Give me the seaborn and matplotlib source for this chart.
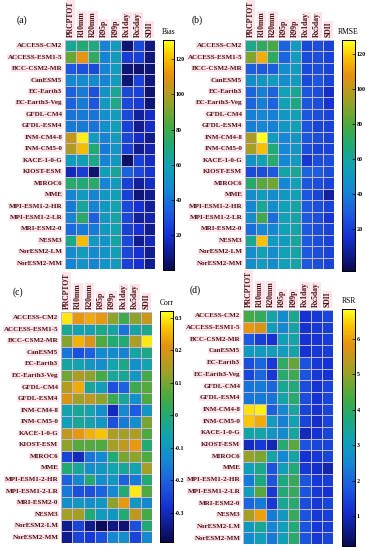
import numpy as np
import pandas as pd
import matplotlib
matplotlib.use('Agg')
import matplotlib.pyplot as plt
import seaborn as sns
from matplotlib.colors import LinearSegmentedColormap

models = ['ACCESS-CM2', 'ACCESS-ESM1-5', 'BCC-CSM2-MR', 'CanESM5', 'EC-Earth3',
          'EC-Earth3-Veg', 'GFDL-CM4', 'GFDL-ESM4', 'INM-CM4-8', 'INM-CM5-0',
          'KACE-1-0-G', 'KIOST-ESM', 'MIROC6', 'MME', 'MPI-ESM1-2-HR',
          'MPI-ESM1-2-LR', 'MRI-ESM2-0', 'NESM3', 'NorESM2-LM', 'NorESM2-MM']
indices = ['PRCPTOT', 'R10mm', 'R20mm', 'R95p', 'R99p', 'Rx1day', 'Rx5day', 'SDII']

bias = [
    [66, 72, 70, 45, 56, 6, 28, 8],
    [88, 112, 76, 45, 56, 24, 25, 7],
    [32, 30, 28, 45, 56, 6, 5, 6],
    [46, 48, 48, 45, 56, 6, 25, 7],
    [34, 42, 30, 52, 66, 27, 25, 5],
    [35, 42, 31, 55, 68, 27, 24, 6],
    [40, 42, 40, 50, 56, 27, 12, 18],
    [42, 42, 40, 50, 58, 25, 10, 18],
    [104, 128, 56, 45, 56, 27, 18, 10],
    [100, 120, 72, 42, 52, 25, 10, 14],
    [56, 58, 68, 45, 55, 4, 25, 18],
    [16, 24, 5, 58, 64, 35, 27, 22],
    [74, 72, 74, 45, 56, 25, 12, 18],
    [45, 55, 45, 55, 58, 25, 6, 10],
    [42, 64, 45, 55, 60, 27, 20, 12],
    [45, 74, 34, 55, 62, 27, 12, 14],
    [37, 42, 42, 55, 60, 25, 20, 10],
    [68, 120, 55, 52, 62, 27, 10, 16],
    [48, 56, 48, 52, 58, 27, 20, 10],
    [45, 52, 45, 52, 56, 25, 20, 10],
]

rmse = [
    [64, 72, 78, 32, 52, 24, 25, 22],
    [88, 114, 72, 32, 52, 24, 25, 22],
    [30, 28, 30, 45, 52, 24, 25, 22],
    [45, 50, 52, 45, 52, 24, 27, 22],
    [32, 40, 32, 55, 62, 27, 25, 15],
    [32, 40, 32, 55, 65, 27, 25, 17],
    [40, 42, 40, 50, 55, 27, 25, 22],
    [40, 42, 40, 50, 55, 27, 22, 22],
    [96, 128, 52, 42, 50, 27, 25, 22],
    [95, 118, 68, 42, 50, 25, 22, 22],
    [48, 56, 70, 42, 52, 18, 25, 25],
    [24, 25, 28, 58, 62, 32, 30, 25],
    [70, 82, 86, 42, 55, 27, 25, 22],
    [45, 52, 45, 50, 55, 27, 22, 8],
    [42, 62, 45, 55, 58, 28, 25, 22],
    [45, 76, 35, 55, 58, 28, 25, 18],
    [35, 42, 42, 55, 58, 28, 25, 22],
    [62, 118, 52, 52, 60, 28, 25, 22],
    [45, 55, 45, 55, 58, 28, 25, 22],
    [45, 52, 45, 55, 58, 28, 25, 22],
]

corr = [
    [0.30, 0.22, 0.24, 0.22, 0.12, 0.04, 0.12, 0.18],
    [-0.03, -0.06, -0.06, -0.02, -0.05, -0.17, -0.05, -0.02],
    [0.11, 0.25, 0.20, 0.06, 0.00, 0.00, 0.15, 0.30],
    [-0.17, -0.23, -0.20, -0.13, -0.13, -0.15, -0.05, -0.02],
    [-0.05, -0.06, -0.10, -0.12, -0.06, -0.02, -0.12, -0.06],
    [0.09, 0.15, 0.12, 0.05, -0.04, -0.04, -0.10, 0.05],
    [0.16, 0.24, -0.04, -0.08, -0.23, -0.20, 0.04, 0.07],
    [0.20, 0.14, 0.17, 0.12, 0.04, -0.04, -0.12, 0.06],
    [-0.06, -0.04, -0.06, -0.12, -0.30, -0.14, -0.21, -0.10],
    [-0.08, -0.04, -0.06, -0.10, -0.23, -0.16, -0.12, 0.10],
    [0.17, 0.22, 0.25, 0.27, 0.15, 0.14, 0.15, 0.06],
    [0.12, 0.07, 0.07, 0.06, 0.14, 0.17, 0.22, 0.00],
    [-0.25, -0.30, -0.17, -0.14, 0.00, 0.10, 0.12, 0.06],
    [0.00, -0.04, -0.12, -0.10, -0.06, -0.04, -0.06, 0.14],
    [-0.20, -0.14, 0.00, -0.12, -0.10, -0.20, -0.16, 0.00],
    [-0.16, -0.23, -0.23, -0.20, -0.14, 0.00, 0.30, 0.06],
    [-0.12, -0.10, -0.12, -0.10, 0.12, 0.22, -0.10, -0.14],
    [0.14, 0.14, 0.00, -0.09, -0.10, 0.00, 0.17, 0.05],
    [-0.34, -0.25, -0.34, -0.38, -0.35, -0.36, -0.23, 0.00],
    [-0.34, -0.25, -0.27, -0.23, -0.14, -0.12, -0.25, -0.14],
]

rsr = [
    [4.3, 4.1, 3.3, 2.6, 3.6, 1.2, 1.3, 1.5],
    [5.9, 5.7, 3.1, 2.5, 3.3, 1.2, 1.3, 1.4],
    [1.8, 1.4, 1.2, 3.1, 3.3, 1.2, 1.2, 1.4],
    [3.0, 3.0, 3.1, 3.0, 3.3, 1.2, 1.3, 1.4],
    [1.6, 2.0, 1.3, 4.0, 4.6, 1.7, 1.3, 1.2],
    [1.5, 2.0, 1.3, 3.9, 4.2, 1.7, 1.3, 1.2],
    [2.2, 2.3, 2.0, 3.5, 3.8, 1.6, 1.2, 1.5],
    [2.2, 2.3, 2.2, 3.3, 3.9, 1.6, 1.2, 1.5],
    [6.6, 6.7, 1.9, 2.5, 3.4, 1.5, 1.2, 1.5],
    [6.4, 6.1, 3.0, 2.4, 3.2, 1.5, 1.1, 1.5],
    [3.3, 3.3, 2.9, 2.6, 3.4, 1.0, 1.2, 1.5],
    [1.0, 1.3, 0.9, 3.9, 4.5, 1.7, 1.5, 1.5],
    [5.0, 4.8, 3.3, 2.5, 3.3, 1.2, 1.3, 1.5],
    [3.1, 3.6, 1.7, 3.1, 3.8, 1.3, 1.1, 0.9],
    [2.3, 3.7, 1.7, 3.7, 4.1, 1.7, 1.3, 1.4],
    [3.1, 4.5, 1.3, 3.8, 4.1, 1.7, 1.3, 1.2],
    [2.0, 2.3, 1.3, 3.5, 3.9, 1.6, 1.3, 1.5],
    [5.2, 6.0, 2.3, 2.9, 4.1, 1.7, 1.3, 1.4],
    [2.9, 3.5, 2.5, 3.1, 3.8, 1.7, 1.3, 1.4],
    [2.6, 3.1, 2.3, 3.1, 3.9, 1.7, 1.3, 1.5],
]

# parula-like colormap
cmap = LinearSegmentedColormap.from_list('parula_like', [
    (0.00, '#0a0a50'), (0.15, '#1530d2'), (0.25, '#1c5ce0'), (0.35, '#1488d2'),
    (0.45, '#10a2b4'), (0.55, '#22aa72'), (0.63, '#48aa40'), (0.73, '#98a228'),
    (0.85, '#e49212'), (0.93, '#f8c400'), (1.00, '#ffff1e')])

plt.rcParams['font.family'] = ['Liberation Serif', 'DejaVu Serif']
plt.rcParams['font.weight'] = 'bold'

fig = plt.figure(figsize=(3.71, 5.5), dpi=100)

panels = [
    ('(a)', 'Bias', bias, 0, 131, [20, 40, 60, 80, 100, 120],
     [65 / 371, 1 - 269 / 550, 90 / 371, 229 / 550], [163 / 371, 1 - 270 / 550, 11 / 371, 230 / 550]),
    ('(b)', 'RMSE', rmse, -4, 128, [20, 40, 60, 80, 100, 120],
     [245 / 371, 1 - 269 / 550, 89 / 371, 229 / 550], [342 / 371, 1 - 271 / 550, 13 / 371, 231 / 550]),
    ('(c)', 'Corr', corr, -0.39, 0.32, [-0.3, -0.2, -0.1, 0, 0.1, 0.2, 0.3],
     [61 / 371, 1 - 543 / 550, 91 / 371, 231 / 550], [160 / 371, 1 - 542 / 550, 13 / 371, 231 / 550]),
    ('(d)', 'RSR', rsr, 0.15, 6.85, [1, 2, 3, 4, 5, 6],
     [243 / 371, 1 - 544 / 550, 90 / 371, 234 / 550], [342 / 371, 1 - 546 / 550, 13 / 371, 237 / 550]),
]

txt_color = '#4a1414'
hl = dict(facecolor='#fde3ea', edgecolor='none', pad=0.5)

for tag, name, vals, vmin, vmax, ticks, pos, cpos in panels:
    ax = fig.add_axes(pos)
    cax = fig.add_axes(cpos)
    cax.set_zorder(5)
    df = pd.DataFrame(vals, index=models, columns=indices)
    sns.heatmap(df, ax=ax, cbar_ax=cax, cmap=cmap, vmin=vmin, vmax=vmax,
                xticklabels=True, yticklabels=True,
                linewidths=0.5, linecolor='#c6b6d6')
    ax.xaxis.tick_top()
    ax.set_xticks(np.arange(len(indices)) + 0.5)
    ax.set_xticklabels(indices, rotation=90, fontsize=5.5, fontweight='bold',
                       color=txt_color, va='bottom')
    ax.set_yticks(np.arange(len(models)) + 0.5)
    ax.set_yticklabels(models, rotation=0, fontsize=5.0, fontweight='bold', color=txt_color)
    for lab in ax.get_xticklabels() + ax.get_yticklabels():
        lab.set_bbox(hl)
    ax.tick_params(length=0, pad=2)
    ax.set_xlabel('')
    ax.set_ylabel('')

    cax.set_yticks(ticks)
    cax.set_yticklabels([f'{t:g}' for t in ticks], fontsize=4.3, fontweight='bold')
    cax.tick_params(axis='y', length=2, width=0.5, pad=1.2, direction='in', right=True)
    for s in cax.spines.values():
        s.set_visible(True)
        s.set_linewidth(0.6)
        s.set_color('black')
    cax.set_title(name, fontsize=5.5, fontweight='normal', pad=4)

    fig.text(pos[0] - 48 / 371 if tag in ('(a)', '(c)') else pos[0] - 53 / 371,
             pos[1] + pos[3] + 17 / 550, tag, fontsize=7, fontweight='normal')

fig.savefig('out.png', dpi=100)
